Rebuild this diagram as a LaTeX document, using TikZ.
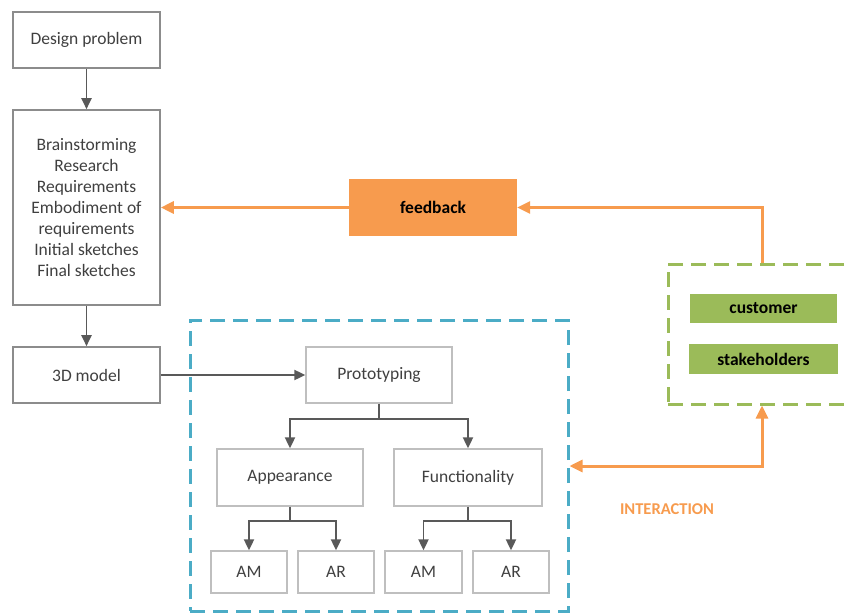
\documentclass[tikz,border=0pt]{standalone}
\usepackage{fontspec}
\setmainfont{Carlito}
\usetikzlibrary{arrows.meta}
\definecolor{boxline}{HTML}{8C8C8C}
\definecolor{lightline}{HTML}{BFBFBF}
\definecolor{txt}{HTML}{404040}
\definecolor{arrowgray}{HTML}{595959}
\definecolor{orng}{HTML}{F79B4E}
\definecolor{grn}{HTML}{9BBB59}
\definecolor{blu}{HTML}{4BACC6}
\tikzset{
  stage/.style={draw=boxline, line width=1.6pt, fill=white, text=txt, align=center,
    font=\fontsize{17.5}{21}\selectfont, inner sep=0pt},
  sub/.style={draw=lightline, line width=1.3pt, fill=white, text=txt, align=center,
    font=\fontsize{17.5}{21}\selectfont, inner sep=0pt},
  flow/.style={draw=arrowgray, line width=1.9pt, -{Triangle[length=11pt,width=10pt]}},
  branch/.style={draw=arrowgray, line width=1.9pt},
  hot/.style={draw=orng, line width=3pt},
  tagbox/.style={fill=grn, text=black, font=\fontsize{17.5}{21}\selectfont\bfseries, inner sep=0pt},
}
\begin{document}
\begin{tikzpicture}[x=1pt,y=-1pt]
\useasboundingbox (0,0) rectangle (847,613);

% left column
\node[stage, minimum width=147, minimum height=56] (dp) at (86.5,40) {Design problem};
\node[stage, minimum width=147, minimum height=195] (brain) at (86.5,207.5)
  {Brainstorming\\Research\\Requirements\\Embodiment of\\requirements\\Initial sketches\\Final sketches};
\node[stage, minimum width=147, minimum height=56] (model) at (86.5,375) {3D model};
\draw[flow] (dp) -- (brain);
\draw[flow] (brain) -- (model);

% prototyping area
\node[draw=blu, line width=3pt, dash pattern=on 15pt off 8pt, minimum width=378, minimum height=291, inner sep=0pt] (area) at (379,465.5) {};
\node[sub, minimum width=146, minimum height=56] (proto) at (379,375) {Prototyping};
\node[sub, minimum width=146, minimum height=57] (app) at (290,477.5) {Appearance};
\node[sub, minimum width=148, minimum height=57] (func) at (468,477.5) {Functionality};
\node[sub, minimum width=76, minimum height=42] (am1) at (249,572) {AM};
\node[sub, minimum width=76, minimum height=42] (ar1) at (336,572) {AR};
\node[sub, minimum width=77, minimum height=42] (am2) at (423.5,572) {AM};
\node[sub, minimum width=76, minimum height=42] (ar2) at (511,572) {AR};

\draw[flow] (model) -- (proto);

\coordinate (pj) at (379,419);
\draw[branch] (proto.south) -- (pj);
\draw[flow] (pj) -| (app.north);
\draw[flow] (pj) -| (func.north);

\coordinate (aj) at (290,521);
\draw[branch] (app.south) -- (aj);
\draw[flow] (aj) -| (am1.north);
\draw[flow] (aj) -| (ar1.north);

\coordinate (fj) at (468,521);
\draw[branch] (func.south) -- (fj);
\draw[flow] (fj) -| (am2.north);
\draw[flow] (fj) -| (ar2.north);

% feedback loop
\node[fill=orng, text=black, font=\fontsize{17.5}{21}\selectfont\bfseries, minimum width=168, minimum height=57, inner sep=0pt] (fb) at (433,207.5) {feedback};

\node[draw=grn, line width=3pt, dash pattern=on 15pt off 8pt, minimum width=202, minimum height=140, inner sep=0pt] (people) at (769,334) {};
\node[tagbox, minimum width=147, minimum height=29] (cust) at (763.5,308.5) {customer};
\node[tagbox, minimum width=149, minimum height=30] (stake) at (763.5,359) {stakeholders};

\coordinate (gx) at (762,0);
\coordinate (topturn) at (762,207.5);
\coordinate (botturn) at (762,466);

\draw[hot, -{Triangle[length=13pt,width=12pt]}] (fb.west) -- (brain.east |- fb.west);
\draw[hot, -{Triangle[length=13pt,width=12pt]}] (people.north -| gx) -- (topturn) -- (fb.east);
\draw[hot, {Triangle[length=13pt,width=12pt]}-{Triangle[length=13pt,width=12pt]}]
  (area.east |- botturn) -- (botturn) -- (people.south -| gx);

\node[text=orng, font=\fontsize{16.5}{20}\selectfont\bfseries] (inter) at (667,509) {INTERACTION};
\end{tikzpicture}
\end{document}
